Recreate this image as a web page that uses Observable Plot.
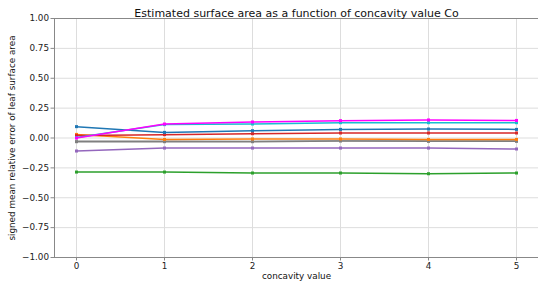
<!DOCTYPE html>
<html>
<head>
<meta charset="utf-8">
<script src="https://cdn.jsdelivr.net/npm/d3@7"></script>
<script src="https://cdn.jsdelivr.net/npm/@observablehq/plot@0.6"></script>
<style>
  body { margin: 0; background: #fff; }
  svg { font-family: "DejaVu Sans", sans-serif; }
</style>
</head>
<body>
<div id="chart"></div>
<script>
const concavity = [0, 1, 2, 3, 4, 5];
const blueSeries    = [0.095, 0.047, 0.061, 0.072, 0.075, 0.072];
const cyanSeries    = [0.004, 0.112, 0.117, 0.128, 0.128, 0.128];
const magentaSeries = [0.000, 0.117, 0.134, 0.145, 0.151, 0.147];
const redSeries     = [0.020, 0.028, 0.036, 0.042, 0.042, 0.042];
const orangeSeries  = [0.030, -0.012, -0.008, -0.008, -0.012, -0.012];
const graySeries    = [-0.031, -0.031, -0.031, -0.025, -0.028, -0.028];
const lightGraySeries = [-0.026, -0.026, -0.027, -0.022, -0.024, -0.024];
const purpleSeries  = [-0.109, -0.084, -0.084, -0.084, -0.084, -0.092];
const greenSeries   = [-0.285, -0.285, -0.293, -0.293, -0.299, -0.293];
const yTicks = [-1, -0.75, -0.5, -0.25, 0, 0.25, 0.5, 0.75, 1];
const xTicks = [0, 1, 2, 3, 4, 5];
const titleText = "Estimated surface area as a function of concavity value Co";
const xLabel = "concavity value";
const yLabel = "signed mean relative error of leaf surface area";

const series = [
  {name: "green", color: "#2ca02c", values: greenSeries},
  {name: "purple", color: "#9467bd", values: purpleSeries},
  {name: "lightgray", color: "#aaaaaa", values: lightGraySeries},
  {name: "gray", color: "#7f7f7f", values: graySeries},
  {name: "orange", color: "#ff7f0e", values: orangeSeries},
  {name: "red", color: "#d62728", values: redSeries},
  {name: "blue", color: "#1f77b4", values: blueSeries},
  {name: "cyan", color: "#17becf", values: cyanSeries},
  {name: "magenta", color: "#ff00ff", values: magentaSeries}
];

const marks = [
  Plot.ruleX(xTicks, {stroke: "#dddddd", strokeWidth: 1}),
  Plot.ruleY(yTicks, {stroke: "#dddddd", strokeWidth: 1}),
  Plot.axisY(yTicks, {ticks: yTicks, tickFormat: d => d3.format(".2f")(d).replace("-", "\u2212"), tickSize: 3.5, tickPadding: 2, fontSize: 8.8, label: null, stroke: "#888"}),
  Plot.axisX(xTicks, {ticks: xTicks, tickFormat: d => String(d), tickSize: 3.5, tickPadding: 2, fontSize: 8.8, label: null, stroke: "#888"}),
  Plot.ruleX([-0.25], {stroke: "#888", strokeWidth: 1}),
  Plot.ruleY([-1], {stroke: "#888", strokeWidth: 1}),
  Plot.ruleY([1], {stroke: "#888", strokeWidth: 1}),
];

for (const s of series) {
  const rows = concavity.map((c, i) => ({x: c, y: s.values[i]}));
  marks.push(Plot.line(rows, {x: "x", y: "y", stroke: s.color, strokeWidth: 1.5}));
  marks.push(Plot.dot(rows, {x: "x", y: "y", fill: s.color, symbol: "square", r: 1.7, stroke: "none"}));
}

marks.push(Plot.text([titleText], {frameAnchor: "top", lineAnchor: "bottom", dy: -2, fontSize: 11, fill: "#111", text: d => d}));
marks.push(Plot.text([xLabel], {frameAnchor: "bottom", lineAnchor: "middle", dy: 19, fontSize: 8.8, fill: "#111", text: d => d}));
marks.push(Plot.text([yLabel], {frameAnchor: "left", textAnchor: "middle", lineAnchor: "middle", dx: -42, rotate: -90, fontSize: 8.8, fill: "#111", text: d => d}));

const chart = Plot.plot({
  width: 538,
  height: 286,
  marginLeft: 54,
  marginRight: 0,
  marginTop: 18,
  marginBottom: 29,
  x: {domain: [-0.25, 5.25]},
  y: {domain: [-1, 1]},
  style: {fontFamily: "DejaVu Sans, sans-serif", color: "#222", background: "#fff"},
  marks
});
document.getElementById("chart").appendChild(chart);
</script>
</body>
</html>
